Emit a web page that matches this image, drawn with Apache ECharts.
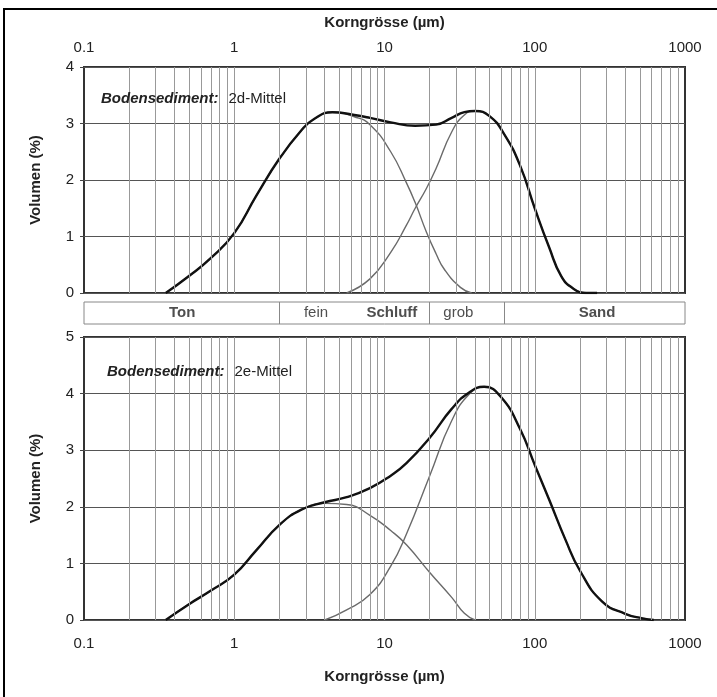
<!DOCTYPE html>
<html>
<head>
<meta charset="utf-8">
<script src="https://cdn.jsdelivr.net/npm/echarts@6/dist/echarts.min.js"></script>
<style>
  html, body { margin: 0; padding: 0; background: #fff; }
  #chart { width: 717px; height: 697px; }
</style>
</head>
<body>
<div id="chart"></div>
<script>
// Bodensediment 2d-Mittel (oben)
const topTotalSizes = [0.35, 0.5, 0.7, 1, 1.4, 2, 2.8, 3.4, 4.5, 6.3, 8, 11, 16, 22, 28, 34, 40, 50, 63, 80, 100, 125, 150, 180, 220, 260];
const topTotal      = [0, 0.3, 0.62, 1.06, 1.72, 2.38, 2.88, 3.08, 3.2, 3.15, 3.1, 3.02, 2.96, 2.98, 3.1, 3.2, 3.22, 3.13, 2.8, 2.25, 1.5, 0.8, 0.3, 0.08, 0, 0];
const topFineSizes  = [0.35, 0.5, 0.7, 1, 1.4, 2, 2.8, 3.4, 4.5, 6.3, 8, 11, 14, 16, 19, 22, 25, 32, 38];
const topFine       = [0, 0.3, 0.62, 1.06, 1.72, 2.38, 2.88, 3.08, 3.2, 3.12, 2.98, 2.5, 1.95, 1.6, 1.08, 0.7, 0.42, 0.1, 0];
const topCoarseSizes = [5.6, 8, 11, 14, 16, 19, 22, 28, 34, 40, 50, 63, 80, 100, 125, 150, 180, 220];
const topCoarse      = [0, 0.25, 0.72, 1.2, 1.5, 1.85, 2.2, 2.85, 3.15, 3.22, 3.13, 2.8, 2.25, 1.5, 0.8, 0.3, 0.08, 0];

// Bodensediment 2e-Mittel (unten)
const botTotalSizes = [0.35, 0.5, 0.7, 1, 1.4, 2, 2.8, 4, 5.6, 8, 11, 14, 20, 28, 37, 46, 60, 80, 100, 125, 160, 200, 280, 400, 520, 620];
const botTotal      = [0, 0.28, 0.52, 0.8, 1.23, 1.68, 1.95, 2.08, 2.17, 2.33, 2.55, 2.77, 3.22, 3.73, 4.03, 4.12, 3.93, 3.37, 2.74, 2.12, 1.42, 0.87, 0.33, 0.11, 0.03, 0];
const botFineSizes  = [0.35, 0.5, 0.7, 1, 1.4, 2, 2.8, 4, 5.6, 8, 11, 14, 20, 28, 34, 40];
const botFine       = [0, 0.28, 0.52, 0.8, 1.23, 1.68, 1.95, 2.06, 2.04, 1.85, 1.58, 1.33, 0.84, 0.4, 0.12, 0];
const botCoarseSizes = [4, 5.6, 8, 11, 14, 20, 28, 37, 46, 60, 80, 100, 125, 160, 200, 280, 400, 520, 620];
const botCoarse      = [0, 0.18, 0.45, 0.95, 1.52, 2.55, 3.52, 4.0, 4.12, 3.93, 3.37, 2.74, 2.12, 1.42, 0.87, 0.33, 0.11, 0.03, 0];

// Kornfraktionen
const bandLabels  = ['Ton', 'fein', 'Schluff', 'grob', 'Sand'];
const bandCenters = [0.45, 3.5, 11.2, 31, 260];
const bandBold    = [true, false, true, false, true];
const bandEdges   = [2, 20, 63];

const topTicks = [0, 1, 2, 3, 4];
const botTicks = [0, 1, 2, 3, 4, 5];

const FONT = 'Liberation Sans, Arial, sans-serif';
const pairs = (xs, ys) => xs.map((x, i) => [x, ys[i]]);

// vertical log grid lines (2..9 of each decade + decades)
const logLines = [];
[0.1, 1, 10, 100].forEach(d => {
  for (let k = 1; k <= 9; k++) {
    if (d === 0.1 && k === 1) continue;
    logLines.push({ xAxis: +(k * d).toPrecision(4) });
  }
});

const gridMark = {
  silent: true, symbol: ['none', 'none'], animation: false,
  label: { show: false },
  lineStyle: { color: '#999', width: 1, type: 'solid' },
  data: logLines
};

const chart = echarts.init(document.getElementById('chart'));

const xBase = {
  type: 'log', logBase: 10, min: 0.1, max: 1000,
  axisLine: { show: false }, axisTick: { show: false }, splitLine: { show: false },
  axisLabel: { color: '#222', fontSize: 15, fontFamily: FONT, formatter: v => String(+(+v).toPrecision(6)) },
  nameLocation: 'middle',
  nameTextStyle: { color: '#222', fontSize: 15, fontWeight: 'bold', fontFamily: FONT }
};
const yBase = {
  type: 'value', min: 0, interval: 1,
  axisLine: { show: false },
  axisTick: { show: true, length: 4, lineStyle: { color: '#444' } },
  axisLabel: { color: '#222', fontSize: 15, fontFamily: FONT, margin: 10 },
  splitLine: { show: true, lineStyle: { color: '#555', width: 1.2 } },
  name: 'Volumen (%)', nameLocation: 'middle', nameGap: 41,
  nameTextStyle: { color: '#222', fontSize: 15, fontWeight: 'bold', fontFamily: FONT }
};

const totalStyle = { color: '#111', width: 2.4 };
const compStyle = { color: '#6a6a6a', width: 1.4 };
const lineSeries = (xi, data, style, extra) => Object.assign({
  type: 'line', xAxisIndex: xi, yAxisIndex: xi, data: data,
  smooth: 0.5, showSymbol: false, symbol: 'none', lineStyle: style, itemStyle: { color: style.color },
  silent: true, animation: false
}, extra || {});

const richTitle = {
  b: { fontWeight: 'bold', fontStyle: 'italic', fontSize: 15, color: '#222', fontFamily: FONT },
  n: { fontWeight: 'normal', fontStyle: 'normal', fontSize: 15, color: '#222', fontFamily: FONT }
};

chart.setOption({
  animation: false,
  backgroundColor: '#fff',
  graphic: [{
    type: 'rect', silent: true, z: 100,
    shape: { x: 4, y: 9, width: 760, height: 760 },
    style: { fill: 'none', stroke: '#000', lineWidth: 2 }
  }],
  title: [
    { left: 96, top: 85, text: '{b|Bodensediment:}  {n|2d-Mittel}', textStyle: { fontWeight: 'normal', rich: richTitle } },
    { left: 102, top: 358, text: '{b|Bodensediment:}  {n|2e-Mittel}', textStyle: { fontWeight: 'normal', rich: richTitle } }
  ],
  grid: [
    { left: 84, width: 601, top: 67, height: 226, show: true, borderColor: '#333', borderWidth: 2, backgroundColor: 'transparent' },
    { left: 84, width: 601, top: 302, height: 22, show: true, borderColor: '#888', borderWidth: 1, backgroundColor: 'transparent' },
    { left: 84, width: 601, top: 337, height: 283, show: true, borderColor: '#333', borderWidth: 2, backgroundColor: 'transparent' }
  ],
  xAxis: [
    Object.assign({}, xBase, { gridIndex: 0, position: 'top', name: 'Korngrösse (µm)', nameGap: 37,
      axisLabel: Object.assign({}, xBase.axisLabel, { margin: 12 }) }),
    Object.assign({}, xBase, { gridIndex: 1, axisLabel: { show: false } }),
    Object.assign({}, xBase, { gridIndex: 2, position: 'bottom', name: 'Korngrösse (µm)', nameGap: 49,
      axisLabel: Object.assign({}, xBase.axisLabel, { margin: 16 }) })
  ],
  yAxis: [
    Object.assign({}, yBase, { gridIndex: 0, max: topTicks[topTicks.length - 1] }),
    { gridIndex: 1, type: 'value', min: 0, max: 1, show: false },
    Object.assign({}, yBase, { gridIndex: 2, max: botTicks[botTicks.length - 1] })
  ],
  series: [
    lineSeries(0, [], compStyle, { markLine: gridMark }),
    lineSeries(0, pairs(topFineSizes, topFine), compStyle),
    lineSeries(0, pairs(topCoarseSizes, topCoarse), compStyle),
    lineSeries(0, pairs(topTotalSizes, topTotal), totalStyle),
    {
      type: 'scatter', xAxisIndex: 1, yAxisIndex: 1, symbolSize: 0, silent: true,
      data: bandLabels.map((t, i) => ({
        value: [bandCenters[i], 0.5], name: t,
        label: { fontWeight: bandBold[i] ? 'bold' : 'normal' }
      })),
      label: { show: true, position: 'inside', formatter: p => p.name, color: '#222', fontSize: 15, fontFamily: FONT },
      markLine: {
        silent: true, symbol: ['none', 'none'], label: { show: false },
        lineStyle: { color: '#888', width: 1, type: 'solid' },
        data: bandEdges.map(v => ({ xAxis: v }))
      }
    },
    lineSeries(2, [], compStyle, { markLine: gridMark }),
    lineSeries(2, pairs(botFineSizes, botFine), compStyle),
    lineSeries(2, pairs(botCoarseSizes, botCoarse), compStyle),
    lineSeries(2, pairs(botTotalSizes, botTotal), totalStyle)
  ]
});
</script>
</body>
</html>
